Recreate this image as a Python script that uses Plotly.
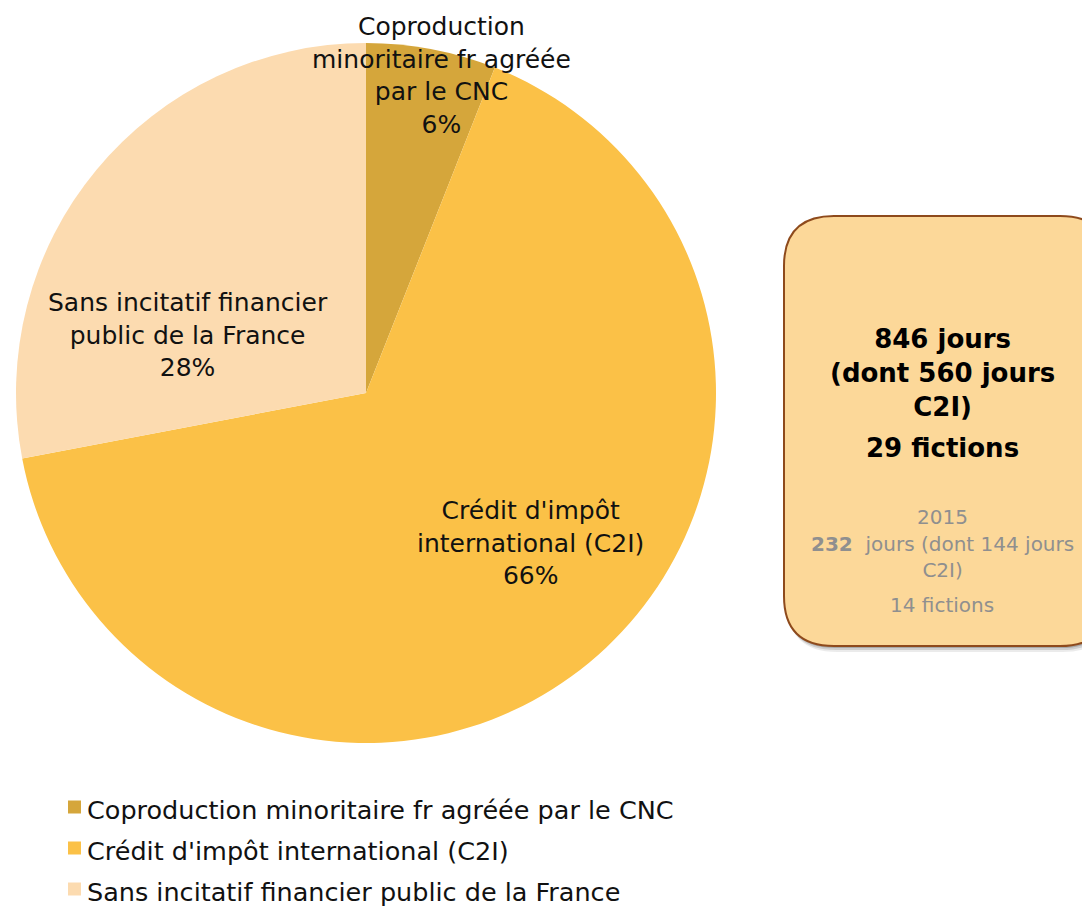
import plotly.graph_objects as go

categories = ["Coproduction minoritaire fr agréée par le CNC",
              "Crédit d'impôt international (C2I)",
              "Sans incitatif financier public de la France"]
label_lines = ["Coproduction<br>minoritaire fr agréée<br>par le CNC",
               "Crédit d'impôt<br>international (C2I)",
               "Sans incitatif financier<br>public de la France"]
shares = [6, 66, 28]
colors = ["#D5A63B", "#FBC147", "#FCDBB0"]

total_days = 846
c2i_days = 560
fictions = 29
prev_year = 2015
prev_days = 232
prev_c2i = 144
prev_fictions = 14

W, H = 1082, 909
FONT = "DejaVu Sans"

def X(px):
    return px / W

def Y(py):
    return 1 - py / H

fig = go.Figure()
fig.add_trace(go.Pie(
    labels=categories, values=shares, sort=False, direction="clockwise",
    marker=dict(colors=colors, line=dict(color="white", width=0)),
    textinfo="none", hoverinfo="label+percent", showlegend=False,
    domain=dict(x=[X(16), X(716)], y=[Y(743), Y(43)]),
))

# slice labels (pixel positions of label centres)
label_pos = [(441, 75), (530, 543), (188, 335)]
ann = []
for txt, v, (px, py) in zip(label_lines, shares, label_pos):
    ann.append(dict(x=X(px), y=Y(py), xref="paper", yref="paper",
                    xanchor="center", yanchor="middle",
                    text=f"{txt}<br>{v}%", showarrow=False,
                    font=dict(family=FONT, size=25, color="#111111"),
                    align="center"))

# manual legend
shapes = []
leg_y = [807, 848, 889]
for i, (name, col) in enumerate(zip(categories, colors)):
    cy = leg_y[i]
    shapes.append(dict(type="rect", xref="paper", yref="paper",
                       x0=X(68), x1=X(81), y0=Y(cy + 6.5), y1=Y(cy - 6.5),
                       fillcolor=col, line=dict(width=0)))
    ann.append(dict(x=X(85), y=Y(cy + 3), xref="paper", yref="paper",
                    xanchor="left", yanchor="middle", showarrow=False,
                    text=name, font=dict(family=FONT, size=25.5, color="#111111")))

# info box
bx0, by0, bx1, by1, r = 784, 216, 1110, 646, 50
def rr(x0, y0, x1, y1, r):
    return (f"M {X(x0 + r)},{Y(y0)} L {X(x1 - r)},{Y(y0)} "
            f"Q {X(x1)},{Y(y0)} {X(x1)},{Y(y0 + r)} L {X(x1)},{Y(y1 - r)} "
            f"Q {X(x1)},{Y(y1)} {X(x1 - r)},{Y(y1)} L {X(x0 + r)},{Y(y1)} "
            f"Q {X(x0)},{Y(y1)} {X(x0)},{Y(y1 - r)} L {X(x0)},{Y(y0 + r)} "
            f"Q {X(x0)},{Y(y0)} {X(x0 + r)},{Y(y0)} Z")

for d, op in [(6, 0.08), (4, 0.12), (2, 0.18)]:
    shapes.append(dict(type="path", xref="paper", yref="paper",
                       path=rr(bx0 + d / 2, by0 + d, bx1 + d / 2, by1 + d, r),
                       fillcolor=f"rgba(0,0,0,{op})", line=dict(width=0)))
shapes.append(dict(type="path", xref="paper", yref="paper", path=rr(bx0, by0, bx1, by1, r),
                   fillcolor="#FCD899", line=dict(color="#8E4A1C", width=2)))

cx = 942
ann.append(dict(x=X(cx), y=Y(373), xref="paper", yref="paper", showarrow=False,
                xanchor="center", yanchor="middle",
                text=f"<b>{total_days} jours<br>(dont {c2i_days} jours<br>C2I)</b>",
                font=dict(family=FONT, size=26, color="black"), align="center"))
ann.append(dict(x=X(cx), y=Y(448), xref="paper", yref="paper", showarrow=False,
                xanchor="center", yanchor="middle",
                text=f"<b>{fictions} fictions</b>",
                font=dict(family=FONT, size=26, color="black"), align="center"))
ann.append(dict(x=X(cx), y=Y(517), xref="paper", yref="paper", showarrow=False,
                xanchor="center", yanchor="middle", text=f"{prev_year}",
                font=dict(family=FONT, size=20, color="#8F8F8F"), align="center"))
ann.append(dict(x=X(cx), y=Y(557), xref="paper", yref="paper", showarrow=False,
                xanchor="center", yanchor="middle",
                text=f"<b>{prev_days}</b>  jours (dont {prev_c2i} jours<br>C2I)",
                font=dict(family=FONT, size=20, color="#8F8F8F"), align="center"))
ann.append(dict(x=X(cx), y=Y(605), xref="paper", yref="paper", showarrow=False,
                xanchor="center", yanchor="middle", text=f"{prev_fictions} fictions",
                font=dict(family=FONT, size=20, color="#8F8F8F"), align="center"))

fig.update_layout(
    width=W, height=H, margin=dict(l=0, r=0, t=0, b=0),
    paper_bgcolor="white", plot_bgcolor="white",
    showlegend=False,
    annotations=ann, shapes=shapes,
)

fig.write_html("out.html", config={"displayModeBar": False},
               post_script="document.body.style.margin='0';document.body.style.overflow='hidden';")
